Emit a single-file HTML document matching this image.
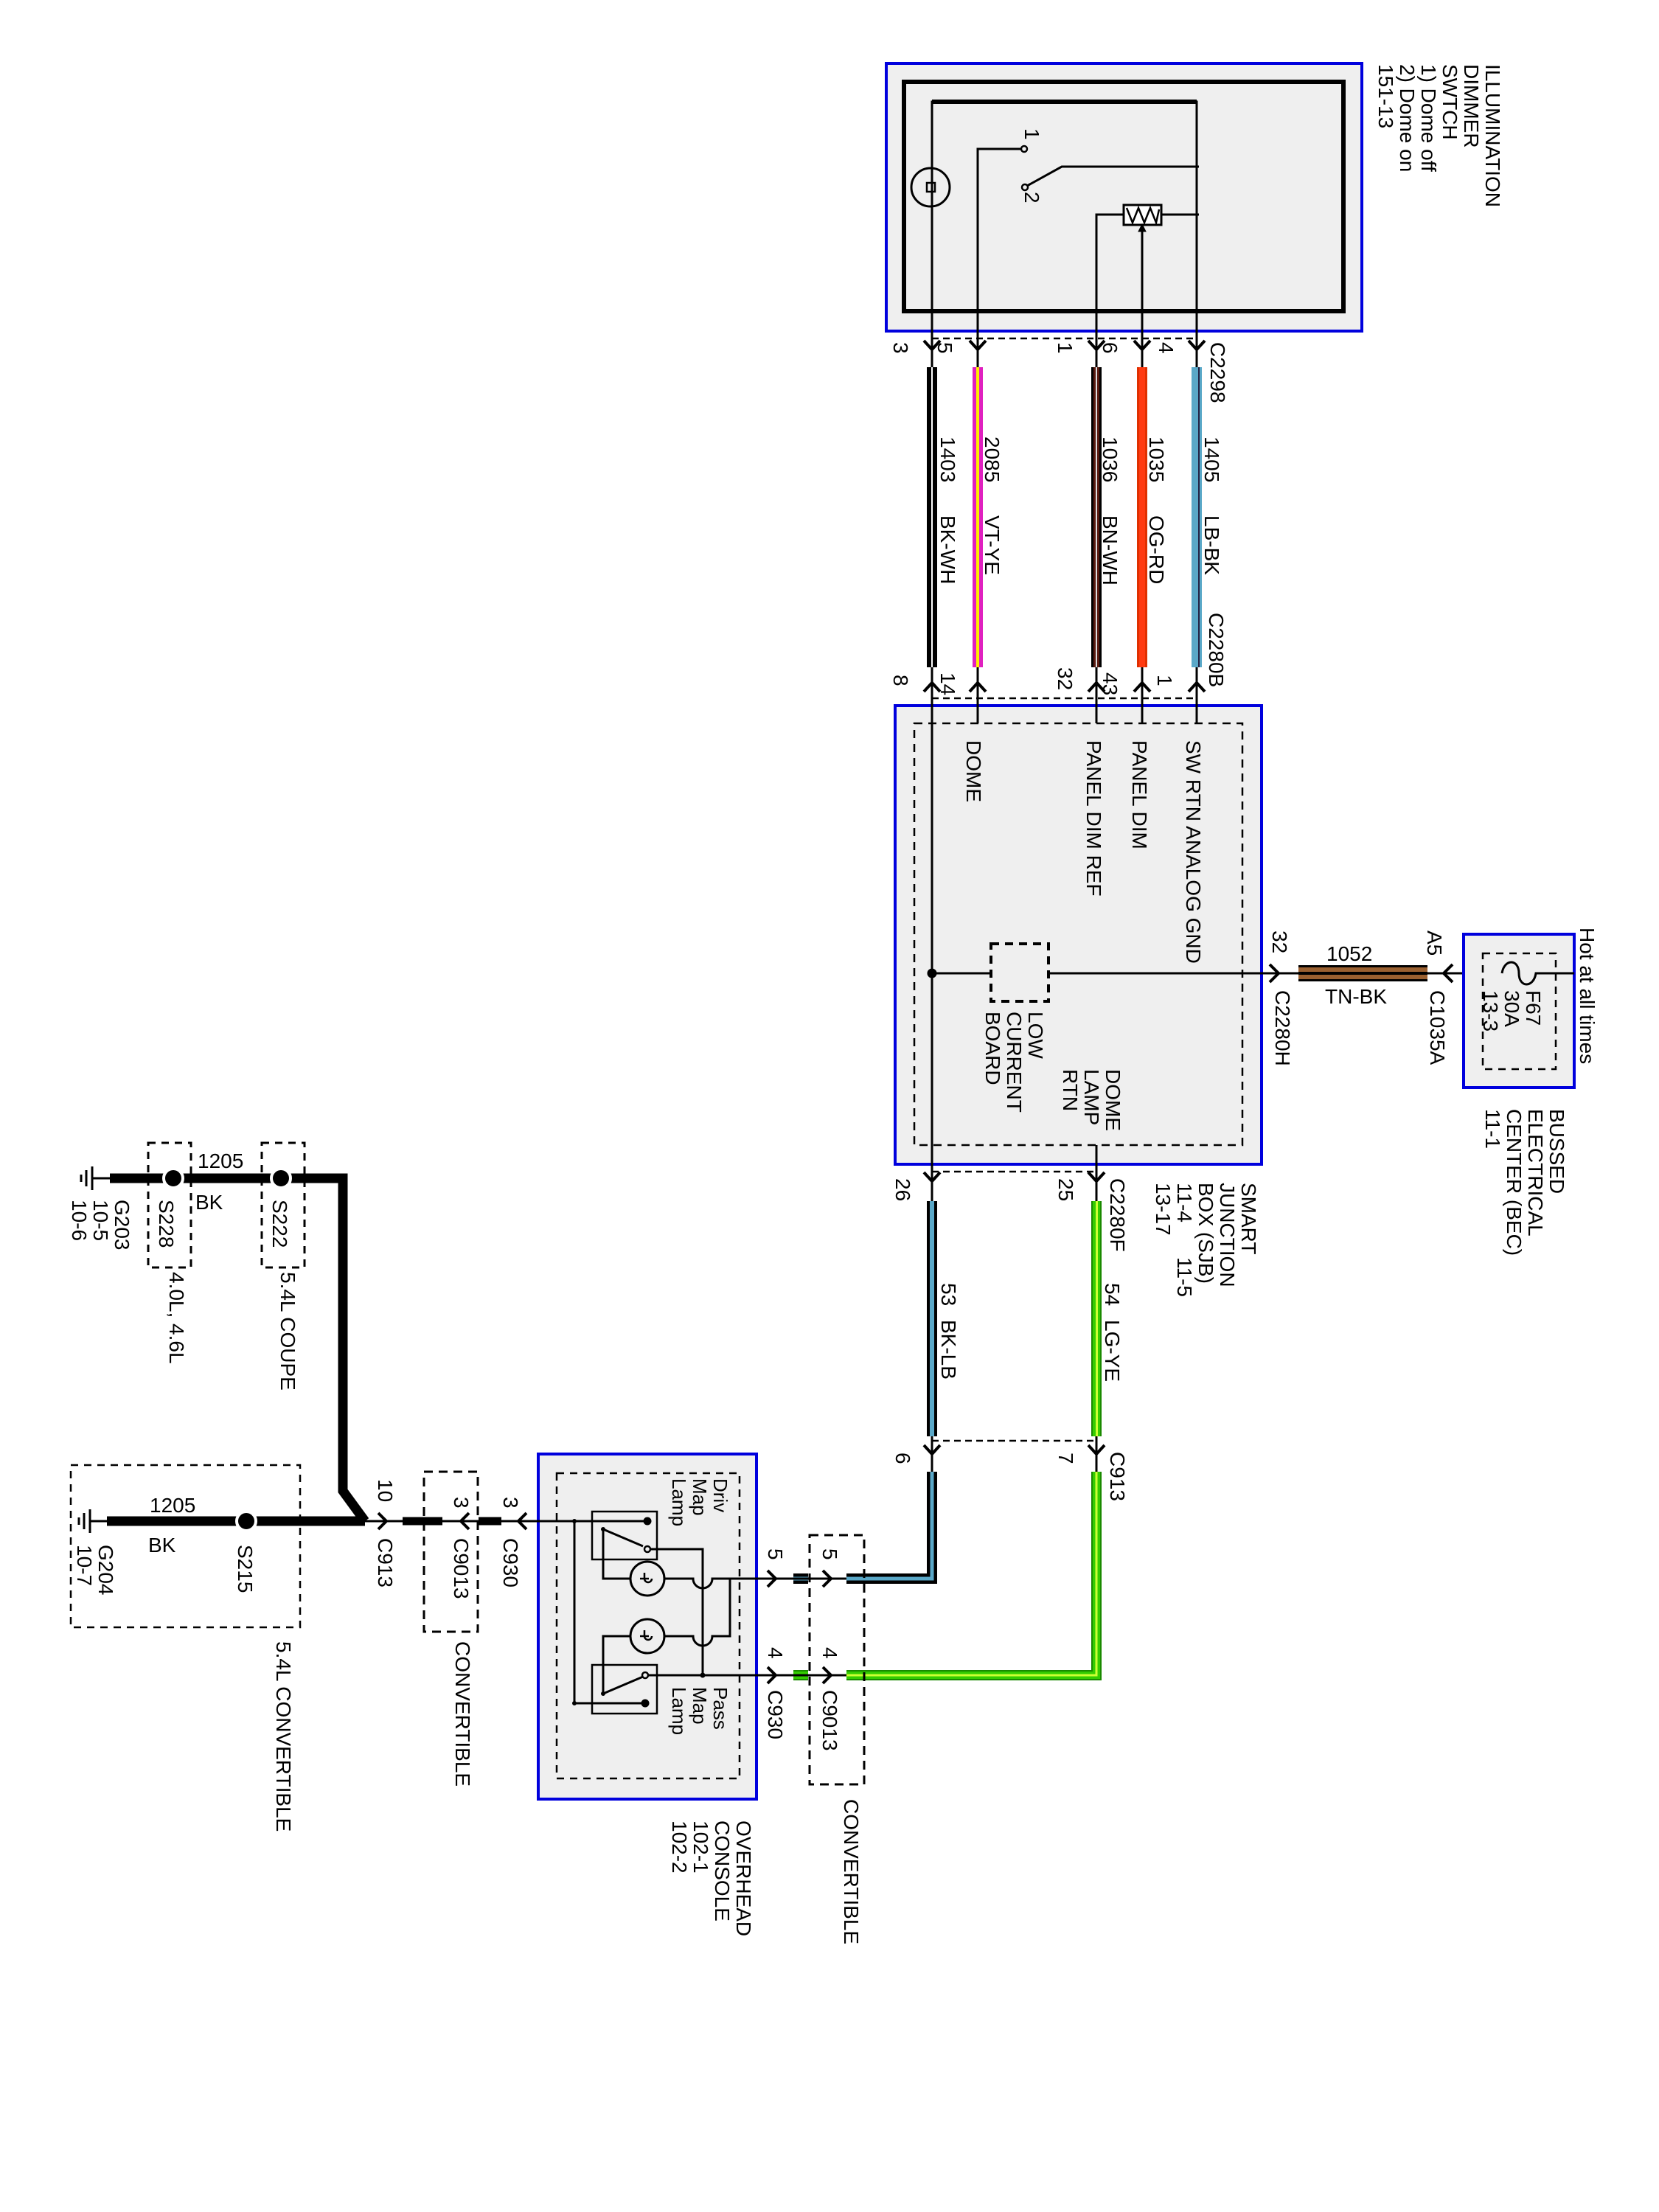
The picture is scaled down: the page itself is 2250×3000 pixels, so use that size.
<!DOCTYPE html>
<html><head><meta charset="utf-8"><style>
html,body{margin:0;padding:0;background:#fff}
svg{display:block}
text{font-family:"Liberation Sans",sans-serif;font-size:28px;fill:#000}
.s{font-size:26px}
</style></head><body>
<svg width="2250" height="3000" viewBox="0 0 2250 3000" xmlns="http://www.w3.org/2000/svg">
<rect width="2250" height="3000" fill="#fff"/>
<g fill="none" stroke="#000" stroke-linecap="butt">

<rect x="1202" y="86" width="645" height="363" fill="#efefef" stroke="#0000dd" stroke-width="4"/>
<rect x="1226" y="111" width="596" height="311" stroke-width="6"/>
<path d="M1264,472 V138 H1623 V472" stroke-width="3"/>
<path d="M1264,138 H1623" stroke-width="6"/>
<circle cx="1262" cy="254" r="26" stroke-width="3" fill="#efefef"/>
<line x1="1264" y1="228" x2="1264" y2="280" stroke-width="3"/>
<rect x="1257" y="248" width="11" height="12" stroke-width="2.5"/>
<path d="M1326,472 V202 H1386" stroke-width="3"/>
<circle cx="1389" cy="202" r="4" stroke-width="2.5"/>
<circle cx="1390" cy="254" r="4" stroke-width="2.5"/>
<path d="M1393,252 L1440,226 H1626" stroke-width="3"/>
<path d="M1487,472 V291 H1524 M1575,291 H1626" stroke-width="3"/>
<rect x="1524" y="278" width="51" height="27" stroke-width="3" fill="#fff"/>
<path d="M1528,282 L1536,302 L1544,282 L1552,302 L1560,282 L1568,302 L1572,284" stroke-width="2.5"/>
<path d="M1549,472 V306" stroke-width="3"/>
<path d="M1544,314 L1549,304 L1554,314 Z" fill="#000" stroke-width="1"/>
<path d="M1264,459 H1623" stroke-width="2.5" stroke-dasharray="9,6"/>
<g stroke-width="4">
<path d="M1253,462 L1264,474 L1275,462"/><path d="M1315,462 L1326,474 L1337,462"/>
<path d="M1476,462 L1487,474 L1498,462"/><path d="M1538,462 L1549,474 L1560,462"/>
<path d="M1612,462 L1623,474 L1634,462"/>
</g>
<g stroke-width="3"><path d="M1264,472V500 M1326,472V500 M1487,472V500 M1549,472V500 M1623,472V500"/>
<path d="M1264,905V947 M1326,905V947 M1487,905V947 M1549,905V947 M1623,905V947"/></g>
<rect x="1257" y="498" width="14" height="407" fill="#000" stroke="none"/>
<rect x="1263" y="498" width="2" height="407" fill="#fff" stroke="none"/>
<rect x="1319" y="498" width="14" height="407" fill="#e020c0" stroke="none"/>
<rect x="1324" y="498" width="4" height="407" fill="#ffee00" stroke="none"/>
<rect x="1480" y="498" width="14" height="407" fill="#000" stroke="none"/>
<rect x="1483" y="498" width="8" height="407" fill="#5a1a10" stroke="none"/>
<rect x="1486" y="498" width="2" height="407" fill="#ddd" stroke="none"/>
<rect x="1542" y="498" width="14" height="407" fill="#e03000" stroke="none"/>
<rect x="1545" y="498" width="8" height="407" fill="#ff3a10" stroke="none"/>
<rect x="1616" y="498" width="14" height="407" fill="#5aa8c8" stroke="none"/>
<rect x="1625" y="498" width="2" height="407" fill="#224" stroke="none"/>
<g stroke-width="4">
<path d="M1253,938 L1264,926 L1275,938"/><path d="M1315,938 L1326,926 L1337,938"/>
<path d="M1476,938 L1487,926 L1498,938"/><path d="M1538,938 L1549,926 L1560,938"/>
<path d="M1612,938 L1623,926 L1634,938"/>
</g>
<path d="M1264,947 H1623" stroke-width="2.5" stroke-dasharray="9,6"/>

<rect x="1214" y="957" width="497" height="622" fill="#efefef" stroke="#0000dd" stroke-width="4"/>
<rect x="1240" y="981" width="445" height="572" stroke-width="2.5" stroke-dasharray="11,8"/>
<path d="M1264,947 V1600 M1326,947 V981 M1487,947 V981 M1549,947 V981 M1623,947 V981 M1487,1553 V1600" stroke-width="3"/>
<circle cx="1264" cy="1320" r="6" fill="#000"/>
<path d="M1264,1320 H1344 M1422,1320 H1761" stroke-width="3"/>
<rect x="1344" y="1280" width="78" height="78" stroke-width="4" stroke-dasharray="11,8"/>
<path d="M1722,1308 L1734,1320 L1722,1332" stroke-width="4"/>
<rect x="1761" y="1309" width="175" height="22" fill="#000" stroke="none"/>
<rect x="1761" y="1312" width="175" height="6" fill="#9a6030" stroke="none"/>
<rect x="1761" y="1322" width="175" height="6" fill="#9a6030" stroke="none"/>
<path d="M1936,1320 H2037" stroke-width="3"/>
<path d="M1970,1308 L1958,1320 L1970,1332" stroke-width="4"/>
<rect x="1985" y="1267" width="150" height="208" fill="#efefef" stroke="#0000dd" stroke-width="4"/>
<rect x="2011" y="1293" width="99" height="157" stroke-width="2.5" stroke-dasharray="10,8"/>
<path d="M2037,1320 C2040,1300 2060,1300 2060,1320 C2060,1340 2080,1340 2083,1320 H2135" stroke-width="3"/>
<path d="M1264,1589 H1487" stroke-width="2.5" stroke-dasharray="9,6"/>
<path d="M1253,1590 L1264,1602 L1275,1590 M1476,1590 L1487,1602 L1498,1590" stroke-width="4"/>
<path d="M1264,1600 V1629 M1487,1600 V1629 M1264,1948 V1996 M1487,1948 V1996" stroke-width="3"/>
<rect x="1257" y="1629" width="14" height="319" fill="#000" stroke="none"/>
<rect x="1261" y="1629" width="6" height="319" fill="#5aa8c8" stroke="none"/>
<rect x="1480" y="1629" width="14" height="319" fill="#1a8a00" stroke="none"/>
<rect x="1482" y="1629" width="10" height="319" fill="#33cc00" stroke="none"/>
<rect x="1486" y="1629" width="3" height="319" fill="#ccff33" stroke="none"/>
<path d="M1264,1954 H1487" stroke-width="2.5" stroke-dasharray="9,6"/>
<path d="M1253,1960 L1264,1972 L1275,1960 M1476,1960 L1487,1972 L1498,1960" stroke-width="4"/>
<path d="M1264,1996 V2141 H1148" stroke="#000" stroke-width="14"/>
<path d="M1264,1996 V2141 H1148" stroke="#5aa8c8" stroke-width="5"/>
<path d="M1487,1996 V2272 H1148" stroke="#1a8a00" stroke-width="14"/>
<path d="M1487,1996 V2272 H1148" stroke="#33cc00" stroke-width="10"/>
<path d="M1487,1996 V2272 H1148" stroke="#ccff33" stroke-width="3"/>
<line x1="1076" y1="2141" x2="1096" y2="2141" stroke="#000" stroke-width="14"/>
<line x1="1076" y1="2141" x2="1096" y2="2141" stroke="#5aa8c8" stroke-width="5"/>
<line x1="1076" y1="2272" x2="1096" y2="2272" stroke="#1a8a00" stroke-width="14"/>
<line x1="1076" y1="2272" x2="1096" y2="2272" stroke="#33cc00" stroke-width="10"/>

<rect x="730" y="1972" width="296" height="468" fill="#efefef" stroke="#0000dd" stroke-width="4"/>
<rect x="755" y="1998" width="248" height="414" stroke-width="2.5" stroke-dasharray="10,8"/>
<path d="M705,2063 H878 M779,2063 V2310 H875" stroke-width="3"/>
<circle cx="878" cy="2063" r="5" fill="#000"/>
<circle cx="875" cy="2310" r="5" fill="#000"/>
<circle cx="779" cy="2063" r="2.5" fill="#000"/>
<circle cx="779" cy="2310" r="2.5" fill="#000"/>
<rect x="803" y="2050" width="88" height="65" stroke-width="2.5"/>
<rect x="803" y="2258" width="88" height="66" stroke-width="2.5"/>
<path d="M818,2074 L872,2097" stroke-width="3"/>
<circle cx="818" cy="2074" r="2.5" fill="#000"/>
<circle cx="878" cy="2101" r="4" stroke-width="2.5" fill="#efefef"/>
<path d="M818,2074 V2141 H940 A13,13 0 0 0 966,2141 H1148" stroke-width="3"/>
<path d="M882,2101 H953 V2272" stroke-width="3"/>
<circle cx="953" cy="2272" r="3" fill="#000"/>
<path d="M990,2141 V2219 H966 A13,13 0 0 1 940,2219 H818 V2297" stroke-width="3"/>
<path d="M818,2297 L872,2274" stroke-width="3"/>
<circle cx="818" cy="2297" r="2.5" fill="#000"/>
<circle cx="875" cy="2272" r="4" stroke-width="2.5" fill="#efefef"/>
<path d="M879,2272 H1148" stroke-width="3"/>
<circle cx="878" cy="2141" r="23" stroke-width="3" fill="#efefef"/>
<path d="M868,2141 H880 M874,2133 V2141 A5,5 0 0 0 884,2141" stroke-width="2.5"/>
<circle cx="878" cy="2219" r="23" stroke-width="3" fill="#efefef"/>
<path d="M868,2219 H880 M874,2211 V2219 A5,5 0 0 0 884,2219" stroke-width="2.5"/>
<path d="M1041,2130 L1052,2141 L1041,2152 M1041,2261 L1052,2272 L1041,2283" stroke-width="4"/>
<path d="M1116,2130 L1127,2141 L1116,2152 M1116,2261 L1127,2272 L1116,2283" stroke-width="4"/>
<rect x="1098" y="2082" width="74" height="338" stroke-width="3" stroke-dasharray="12,8"/>

<path d="M149,1598 H465 V2022 L495,2063 M145,2063 H495" stroke-width="13" stroke-linejoin="miter"/>
<circle cx="235" cy="1598" r="13" fill="#000" stroke="#fff" stroke-width="4"/>
<circle cx="381" cy="1598" r="13" fill="#000" stroke="#fff" stroke-width="4"/>
<circle cx="334" cy="2063" r="13" fill="#000" stroke="#fff" stroke-width="4"/>
<path d="M125,1598 H149 M125,1582 V1614 M117,1587 V1609 M110,1593 V1603" stroke-width="3"/>
<path d="M122,2063 H145 M122,2047 V2079 M114,2052 V2074 M107,2058 V2068" stroke-width="3"/>
<rect x="201" y="1550" width="58" height="169" stroke-width="3" stroke-dasharray="10,8"/>
<rect x="355" y="1550" width="58" height="169" stroke-width="3" stroke-dasharray="10,8"/>
<rect x="96" y="1987" width="311" height="220" stroke-width="2.5" stroke-dasharray="10,8"/>
<path d="M495,2063 H546 M600,2063 H649 M680,2063 H779" stroke-width="3"/>
<path d="M546,2063 H600 M649,2063 H680" stroke-width="11"/>
<path d="M513,2052 L524,2063 L513,2074" stroke-width="4"/>
<path d="M636,2052 L625,2063 L636,2074" stroke-width="4"/>
<path d="M714,2052 L703,2063 L714,2074" stroke-width="4"/>
<rect x="575" y="1996" width="73" height="217" stroke-width="3" stroke-dasharray="12,8"/>
</g>

<g>
<text transform="translate(2015,87) rotate(90)"><tspan x="0">ILLUMINATION</tspan><tspan x="0" dy="29">DIMMER</tspan><tspan x="0" dy="29">SWTCH</tspan><tspan x="0" dy="29">1) Dome off</tspan><tspan x="0" dy="29">2) Dome on</tspan><tspan x="0" dy="29">151-13</tspan></text>
<text transform="translate(1390,174) rotate(90)">1</text>
<text transform="translate(1390,260) rotate(90)">2</text>
<text transform="translate(1212,464) rotate(90)">3</text>
<text transform="translate(1272,464) rotate(90)">5</text>
<text transform="translate(1435,464) rotate(90)">1</text>
<text transform="translate(1496,464) rotate(90)">6</text>
<text transform="translate(1572,464) rotate(90)">4</text>
<text transform="translate(1642,464) rotate(90)">C2298</text>
<text transform="translate(1276,592) rotate(90)">1403</text><text transform="translate(1276,699) rotate(90)">BK-WH</text>
<text transform="translate(1336,592) rotate(90)">2085</text><text transform="translate(1336,699) rotate(90)">VT-YE</text>
<text transform="translate(1496,592) rotate(90)">1036</text><text transform="translate(1496,699) rotate(90)">BN-WH</text>
<text transform="translate(1559,592) rotate(90)">1035</text><text transform="translate(1559,699) rotate(90)">OG-RD</text>
<text transform="translate(1634,592) rotate(90)">1405</text><text transform="translate(1634,699) rotate(90)">LB-BK</text>
<text transform="translate(1640,831) rotate(90)">C2280B</text>
<text transform="translate(1212,915) rotate(90)">8</text>
<text transform="translate(1276,912) rotate(90)">14</text>
<text transform="translate(1435,905) rotate(90)">32</text>
<text transform="translate(1496,912) rotate(90)">43</text>
<text transform="translate(1570,915) rotate(90)">1</text>
<text transform="translate(1311,1004) rotate(90)">DOME</text>
<text transform="translate(1474,1004) rotate(90)">PANEL DIM REF</text>
<text transform="translate(1536,1004) rotate(90)">PANEL DIM</text>
<text transform="translate(1609,1004) rotate(90)">SW RTN ANALOG GND</text>
<text transform="translate(1395,1372) rotate(90)"><tspan x="0">LOW</tspan><tspan x="0" dy="29">CURRENT</tspan><tspan x="0" dy="29">BOARD</tspan></text>
<text transform="translate(1500,1450) rotate(90)"><tspan x="0">DOME</tspan><tspan x="0" dy="29">LAMP</tspan><tspan x="0" dy="29">RTN</tspan></text>
<text transform="translate(1726,1262) rotate(90)">32</text>
<text transform="translate(1730,1343) rotate(90)">C2280H</text>
<text x="1799" y="1303">1052</text>
<text x="1797" y="1361">TN-BK</text>
<text transform="translate(1936,1262) rotate(90)">A5</text>
<text transform="translate(1940,1343) rotate(90)">C1035A</text>
<text transform="translate(2070,1343) rotate(90)"><tspan x="0">F67</tspan><tspan x="0" dy="29">30A</tspan><tspan x="0" dy="29">13-3</tspan></text>
<text transform="translate(2143,1258) rotate(90)">Hot at all times</text>
<text transform="translate(2102,1504) rotate(90)"><tspan x="0">BUSSED</tspan><tspan x="0" dy="29">ELECTRICAL</tspan><tspan x="0" dy="29">CENTER (BEC)</tspan><tspan x="0" dy="29">11-1</tspan></text>
<text transform="translate(1215,1598) rotate(90)">26</text>
<text transform="translate(1436,1598) rotate(90)">25</text>
<text transform="translate(1506,1598) rotate(90)">C2280F</text>
<text transform="translate(1684,1604) rotate(90)"><tspan x="0">SMART</tspan><tspan x="0" dy="29">JUNCTION</tspan><tspan x="0" dy="29">BOX (SJB)</tspan><tspan x="0" dy="29">11-4</tspan><tspan x="0" dy="29">13-17</tspan></text>
<text transform="translate(1597,1705) rotate(90)">11-5</text>
<text transform="translate(1277,1740) rotate(90)">53</text><text transform="translate(1277,1790) rotate(90)">BK-LB</text>
<text transform="translate(1499,1740) rotate(90)">54</text><text transform="translate(1499,1790) rotate(90)">LG-YE</text>
<text transform="translate(1215,1970) rotate(90)">6</text>
<text transform="translate(1436,1970) rotate(90)">7</text>
<text transform="translate(1506,1969) rotate(90)">C913</text>
<text class="s" transform="translate(968,2005) rotate(90)"><tspan x="0">Driv</tspan><tspan x="0" dy="28">Map</tspan><tspan x="0" dy="28">Lamp</tspan></text>
<text class="s" transform="translate(968,2288) rotate(90)"><tspan x="0">Pass</tspan><tspan x="0" dy="28">Map</tspan><tspan x="0" dy="28">Lamp</tspan></text>
<text transform="translate(1042,2100) rotate(90)">5</text>
<text transform="translate(1042,2234) rotate(90)">4</text>
<text transform="translate(1042,2292) rotate(90)">C930</text>
<text transform="translate(1116,2100) rotate(90)">5</text>
<text transform="translate(1116,2234) rotate(90)">4</text>
<text transform="translate(1116,2292) rotate(90)">C9013</text>
<text transform="translate(1145,2440) rotate(90)">CONVERTIBLE</text>
<text transform="translate(999,2469) rotate(90)"><tspan x="0">OVERHEAD</tspan><tspan x="0" dy="29">CONSOLE</tspan><tspan x="0" dy="29">102-1</tspan><tspan x="0" dy="29">102-2</tspan></text>
<text x="268" y="1584">1205</text>
<text x="265" y="1640">BK</text>
<text transform="translate(156,1627) rotate(90)"><tspan x="0">G203</tspan><tspan x="0" dy="29">10-5</tspan><tspan x="0" dy="29">10-6</tspan></text>
<text transform="translate(216,1627) rotate(90)">S228</text>
<text transform="translate(230,1725) rotate(90)">4.0L, 4.6L</text>
<text transform="translate(370,1627) rotate(90)">S222</text>
<text transform="translate(381,1725) rotate(90)">5.4L COUPE</text>
<text x="203" y="2051">1205</text>
<text x="201" y="2105">BK</text>
<text transform="translate(134,2095) rotate(90)"><tspan x="0">G204</tspan><tspan x="0" dy="29">10-7</tspan></text>
<text transform="translate(323,2095) rotate(90)">S215</text>
<text transform="translate(375,2226) rotate(90)">5.4L CONVERTIBLE</text>
<text transform="translate(513,2006) rotate(90)">10</text>
<text transform="translate(513,2086) rotate(90)">C913</text>
<text transform="translate(616,2030) rotate(90)">3</text>
<text transform="translate(616,2086) rotate(90)">C9013</text>
<text transform="translate(683,2030) rotate(90)">3</text>
<text transform="translate(683,2086) rotate(90)">C930</text>
<text transform="translate(618,2226) rotate(90)">CONVERTIBLE</text>
</g>
</svg>
</body></html>
